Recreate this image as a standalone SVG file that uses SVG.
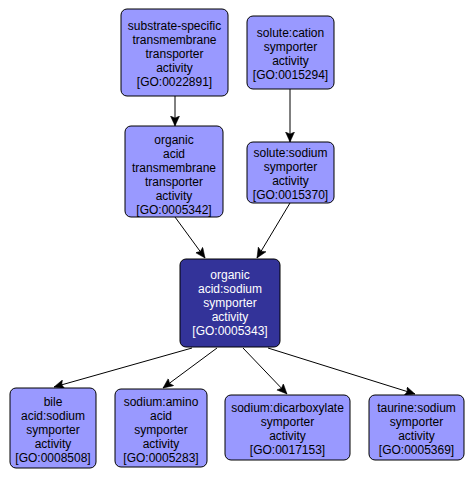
<svg xmlns="http://www.w3.org/2000/svg" width="472" height="477" viewBox="0 0 472 477">
<style>
.n rect{fill:#9999ff;stroke:#000;stroke-width:1}
.n text{font-family:"Liberation Sans",Arial,sans-serif;font-size:12px;fill:#000;text-anchor:middle}
#n5 rect{fill:#333399}
#n5 text{fill:#fff}
.e line{stroke:#000;stroke-width:1;marker-end:url(#a)}
</style>
<defs>
<marker id="a" markerUnits="userSpaceOnUse" markerWidth="12" markerHeight="10" refX="10" refY="4.5" orient="auto">
<path d="M0,0 L10,4.5 L0,9 L2,4.5 z" fill="#000" stroke="#000" stroke-width="0.5"/>
</marker>
</defs>
<rect width="472" height="477" fill="#fff"/>
<g id="edges" class="e">
<line x1="175" y1="96" x2="175" y2="126"/>
<line x1="290" y1="89" x2="290" y2="142"/>
<line x1="175" y1="217" x2="205" y2="258"/>
<line x1="290" y1="203" x2="257" y2="258"/>
<line x1="192" y1="348" x2="54" y2="387"/>
<line x1="217" y1="348" x2="163" y2="388"/>
<line x1="243" y1="348" x2="287" y2="394"/>
<line x1="268" y1="348" x2="415" y2="394"/>
</g>
<g id="n1" class="n">
<rect x="121" y="9" width="107" height="87" rx="6"/>
<text x="174.5" y="30">substrate-specific</text>
<text x="174.5" y="44">transmembrane</text>
<text x="174.5" y="58">transporter</text>
<text x="174.5" y="72">activity</text>
<text x="174.5" y="86">[GO:0022891]</text>
</g>
<g id="n2" class="n">
<rect x="247" y="16" width="87" height="73" rx="6"/>
<text x="290.5" y="37">solute:cation</text>
<text x="290.5" y="51">symporter</text>
<text x="290.5" y="65">activity</text>
<text x="290.5" y="79">[GO:0015294]</text>
</g>
<g id="n3" class="n">
<rect x="125" y="126" width="98" height="91" rx="6"/>
<text x="174" y="143.5">organic</text>
<text x="174" y="157.5">acid</text>
<text x="174" y="171.5">transmembrane</text>
<text x="174" y="185.5">transporter</text>
<text x="174" y="199.5">activity</text>
<text x="174" y="213.5">[GO:0005342]</text>
</g>
<g id="n4" class="n">
<rect x="247" y="142" width="87" height="61" rx="6"/>
<text x="290.5" y="157">solute:sodium</text>
<text x="290.5" y="171">symporter</text>
<text x="290.5" y="185">activity</text>
<text x="290.5" y="199">[GO:0015370]</text>
</g>
<g id="n5" class="n">
<rect x="180" y="259" width="100" height="88" rx="6"/>
<text x="230" y="279">organic</text>
<text x="230" y="293">acid:sodium</text>
<text x="230" y="307">symporter</text>
<text x="230" y="321">activity</text>
<text x="230" y="335">[GO:0005343]</text>
</g>
<g id="n6" class="n">
<rect x="10" y="388" width="86" height="80" rx="6"/>
<text x="53" y="406">bile</text>
<text x="53" y="420">acid:sodium</text>
<text x="53" y="434">symporter</text>
<text x="53" y="448">activity</text>
<text x="53" y="462">[GO:0008508]</text>
</g>
<g id="n7" class="n">
<rect x="115" y="389" width="92" height="78" rx="6"/>
<text x="161" y="406">sodium:amino</text>
<text x="161" y="420">acid</text>
<text x="161" y="434">symporter</text>
<text x="161" y="448">activity</text>
<text x="161" y="462">[GO:0005283]</text>
</g>
<g id="n8" class="n">
<rect x="225" y="395" width="125" height="65" rx="6"/>
<text x="287.5" y="412">sodium:dicarboxylate</text>
<text x="287.5" y="426">symporter</text>
<text x="287.5" y="440">activity</text>
<text x="287.5" y="454">[GO:0017153]</text>
</g>
<g id="n9" class="n">
<rect x="369" y="395" width="95" height="65" rx="6"/>
<text x="416.5" y="412">taurine:sodium</text>
<text x="416.5" y="426">symporter</text>
<text x="416.5" y="440">activity</text>
<text x="416.5" y="454">[GO:0005369]</text>
</g>
</svg>
